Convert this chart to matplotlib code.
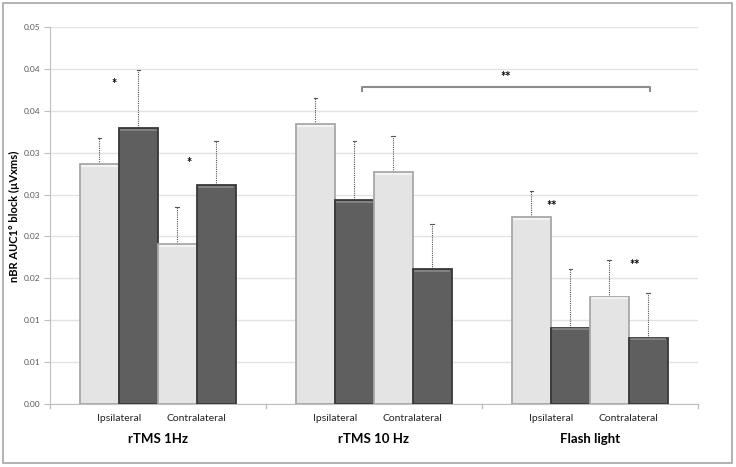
import numpy as np
import matplotlib
matplotlib.use("Agg")
import matplotlib.pyplot as plt

plt.rcParams['font.family'] = ['Lato', 'DejaVu Sans']

groups = ['rTMS 1Hz', 'rTMS 10 Hz', 'Flash light']
sides = ['Ipsilateral', 'Contralateral']

# per group: [ipsi light, ipsi dark, contra light, contra dark]
means = [
    [0.0286, 0.0329, 0.0191, 0.0261],
    [0.0334, 0.0243, 0.0277, 0.0161],
    [0.0223, 0.0091, 0.0128, 0.0079],
]
upper = [
    [0.0317, 0.0399, 0.0235, 0.0314],
    [0.0365, 0.0314, 0.0320, 0.0215],
    [0.0254, 0.0161, 0.0172, 0.0132],
]

# significance marks: (group, position in bar widths, label)
stars = [(0, 0.88, '*'), (0, 2.8, '*'), (2, 1.03, '**'), (2, 3.16, '**')]
star_y = [0.0382, 0.0288, 0.0236, 0.0166]
bracket_y = 0.0378
bracket_from = (1, 1.69)
bracket_to = (2, 3.56)

light = '#e4e4e4'
dark = '#5f5f5f'
colors = [light, dark, light, dark]
edges = ['#a8a8a8', '#383838', '#a8a8a8', '#383838']

fig = plt.figure(figsize=(7.36, 4.67), dpi=100)
fig.patches.append(plt.Rectangle((3 / 736, 4 / 467), 729 / 736, 460 / 467,
                                 transform=fig.transFigure, fill=False,
                                 edgecolor='#a6a6a6', linewidth=1.2))
ax = fig.add_axes([50 / 736, 63 / 467, 648 / 736, 377 / 467])

bw = 0.18
offset = 0.139
for g in range(3):
    for i in range(4):
        x = g + offset + bw * (i + 0.5)
        ax.bar(x, means[g][i], width=bw, color=colors[i], edgecolor=edges[i],
               linewidth=1.3, zorder=3)
        # highlight along the top edge for a bevel look
        ax.plot([x - bw / 2 + 0.01, x + bw / 2 - 0.01],
                [means[g][i] - 0.0002] * 2,
                color='#f8f8f8' if colors[i] == light else '#8a8a8a',
                linewidth=1.2, zorder=4)
        ax.plot([x, x], [means[g][i], upper[g][i]], color='#555555',
                linewidth=0.8, linestyle=(0, (1, 1)), zorder=2)
        ax.plot([x - 0.008, x + 0.008], [upper[g][i]] * 2, color='#555555',
                linewidth=0.8, zorder=2)

for (g, b, s), y in zip(stars, star_y):
    x = g + offset + bw * b
    ax.text(x, y, s, ha='center', va='center', fontsize=9, fontweight='bold')

# bracket between rTMS 10 Hz and Flash light
x0 = bracket_from[0] + offset + bw * bracket_from[1]
x1 = bracket_to[0] + offset + bw * bracket_to[1]
ax.plot([x0, x0, x1, x1], [bracket_y - 0.0004, bracket_y, bracket_y, bracket_y - 0.0004],
        color='#8c8c8c', linewidth=1.5, zorder=3)
ax.text((x0 + x1) / 2, bracket_y + 0.0012, '**', ha='center', va='center',
        fontsize=9, fontweight='bold')

ax.set_xlim(0, 3)
ax.set_ylim(0, 0.045)
yt = np.arange(0, 0.0451, 0.005)
ax.set_yticks(yt)
ax.set_yticklabels(['{:.2f}'.format(np.floor(v * 100 + 0.5 + 1e-9) / 100) for v in yt],
                   fontsize=6, color='#595959')
ax.tick_params(axis='y', length=4, color='#bfbfbf', pad=3)
ax.yaxis.grid(True, color='#e3e3e3', linewidth=1, zorder=0)
ax.set_axisbelow(True)

ax.set_xticks([])
for g in range(3):
    for k, s in enumerate(sides):
        x = g + offset + bw * (2 * k + 1)
        ax.text(x, -0.0012, s, ha='center', va='top', fontsize=7.5,
                color='#222222')
    ax.text(g + 0.5, -0.0035, groups[g], ha='center', va='top', fontsize=9.5,
            fontweight='bold')
for g in range(4):
    ax.plot([g, g], [0, -0.0005], color='#bfbfbf', linewidth=1, clip_on=False)

for sp in ['top', 'right']:
    ax.spines[sp].set_visible(False)
ax.spines['left'].set_color('#bfbfbf')
ax.spines['bottom'].set_color('#bfbfbf')

fig.text(14 / 736, 1 - 216 / 467, 'nBR AUC1° block (µVxms)', rotation=90,
         ha='center', va='center', fontsize=8, fontweight='bold')

fig.savefig('out.png', dpi=100)
